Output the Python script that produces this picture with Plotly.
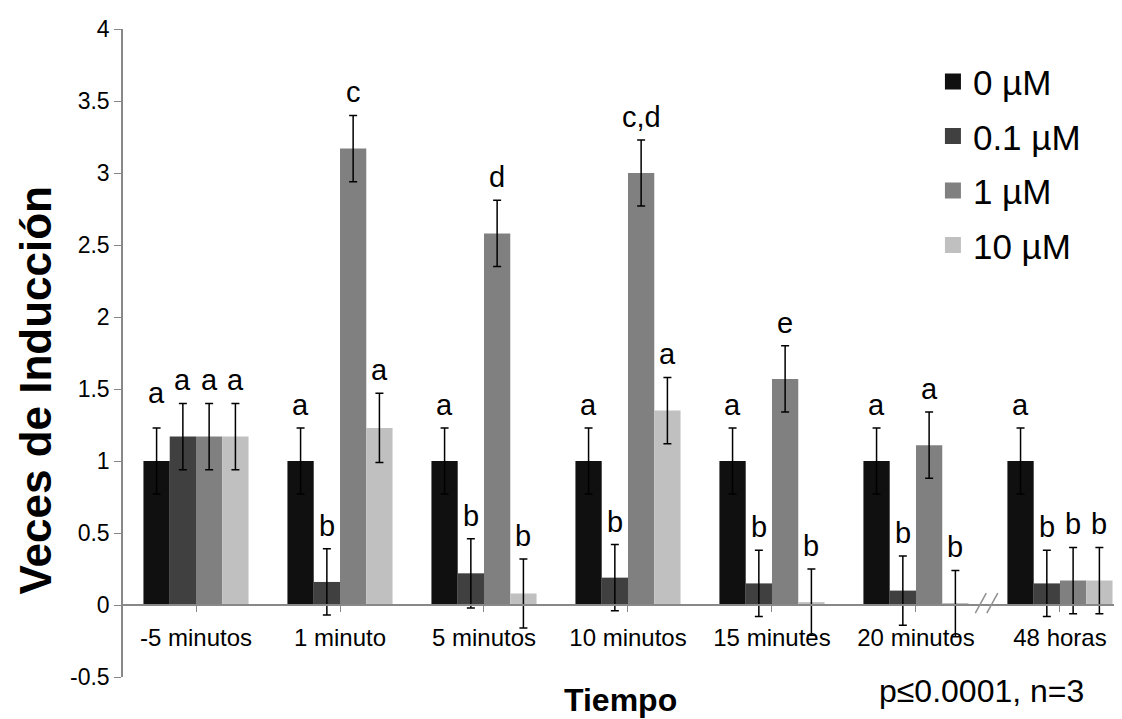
import plotly.graph_objects as go

categories = ["-5 minutos", "1 minuto", "5 minutos", "10 minutos",
              "15 minutes", "20 minutos", "48 horas"]
series_names = ["0 µM", "0.1 µM", "1 µM", "10 µM"]

v_0 = [1.00, 1.00, 1.00, 1.00, 1.00, 1.00, 1.00]
v_01 = [1.17, 0.16, 0.22, 0.19, 0.15, 0.10, 0.15]
v_1 = [1.17, 3.17, 2.58, 3.00, 1.57, 1.11, 0.17]
v_10 = [1.17, 1.23, 0.08, 1.35, 0.02, 0.01, 0.17]

e_0 = [0.23, 0.23, 0.23, 0.23, 0.23, 0.23, 0.23]
e_01 = [0.23, 0.23, 0.24, 0.23, 0.23, 0.24, 0.23]
e_1 = [0.23, 0.23, 0.23, 0.23, 0.23, 0.23, 0.23]
e_10 = [0.23, 0.24, 0.24, 0.23, 0.23, 0.23, 0.23]

l_0 = ["a", "a", "a", "a", "a", "a", "a"]
l_01 = ["a", "b", "b", "b", "b", "b", "b"]
l_1 = ["a", "c", "d", "c,d", "e", "a", "b"]
l_10 = ["a", "a", "b", "a", "b", "b", "b"]

y_ticks = [-0.5, 0, 0.5, 1, 1.5, 2, 2.5, 3, 3.5, 4]
y_tick_labels = ["-0.5", "0", "0.5", "1", "1.5", "2", "2.5", "3", "3.5", "4"]

note_text = "p≤0.0001, n=3"
x_title = "Tiempo"
y_title = "Veces de Inducción"

values = [v_0, v_01, v_1, v_10]
errors = [e_0, e_01, e_1, e_10]
letters = [l_0, l_01, l_1, l_10]
colors = ["#101010", "#404040", "#808080", "#c0c0c0"]

FONT = "Liberation Sans, Arial, sans-serif"
BARGAP = 0.27
x_idx = list(range(len(categories)))
YMIN, YMAX = -0.5, 4.0

fig = go.Figure()
for j in range(4):
    fig.add_trace(go.Bar(
        x=x_idx, y=values[j], name=series_names[j],
        marker=dict(color=colors[j], line=dict(width=0)),
        error_y=dict(type="data", array=errors[j], visible=True,
                     color="#000000", thickness=1.5, width=4),
        showlegend=False,
    ))
# legend entries (square markers)
for j in range(4):
    fig.add_trace(go.Scatter(
        x=[None], y=[None], mode="markers", name=series_names[j],
        marker=dict(symbol="square", size=18, color=colors[j]),
        legendgroup=f"g{j}", showlegend=True,
    ))

# significance letters
bw = (1 - BARGAP) / 4
extra = {(0, 0): 12}
for j in range(4):
    for i in x_idx:
        fig.add_annotation(
            x=i + (j - 1.5) * bw, y=values[j][i] + errors[j][i],
            xref="x", yref="y", text=letters[j][i], showarrow=False,
            yanchor="bottom", xanchor="center",
            yshift=5 + extra.get((j, i), 0),
            font=dict(family=FONT, size=29, color="#000000"),
        )

# axis break marks between 20 minutos and 48 horas
brk = 5.49
for dx in (-0.04, 0.04):
    fig.add_shape(type="line", xref="x", yref="y",
                  x0=brk + dx - 0.038, y0=-0.056, x1=brk + dx + 0.038, y1=0.083,
                  line=dict(color="#909090", width=1.5))

fig.add_annotation(x=0.4995, y=-0.036, xref="paper", yref="paper",
                   text=f"<b>{x_title}</b>", showarrow=False,
                   xanchor="center", yanchor="middle",
                   font=dict(family=FONT, size=32, color="#000000"))
fig.add_annotation(x=-0.088, y=0.443, xref="paper", yref="paper",
                   text=f"<b>{y_title}</b>", showarrow=False, textangle=-90,
                   xanchor="center", yanchor="middle",
                   font=dict(family=FONT, size=44, color="#000000"))
fig.add_annotation(x=0.863, y=-0.022, xref="paper", yref="paper",
                   text=note_text, showarrow=False,
                   xanchor="center", yanchor="middle",
                   font=dict(family=FONT, size=32, color="#000000"))

fig.update_layout(
    width=1114, height=711,
    margin=dict(l=115, r=4, t=21, b=42),
    paper_bgcolor="white", plot_bgcolor="white",
    barmode="group", bargap=BARGAP, bargroupgap=0,
    font=dict(family=FONT, color="#000000"),
    legend=dict(x=0.814, y=0.964, xanchor="left", yanchor="top",
                font=dict(family=FONT, size=35, color="#000000"),
                tracegroupgap=6, bgcolor="rgba(0,0,0,0)",
                itemsizing="trace"),
    xaxis=dict(
        range=[-0.507, 6.403], tickmode="array", tickvals=x_idx,
        ticktext=categories, ticks="outside", ticklen=6, tickcolor="#888888",
        showline=True, linecolor="#888888", linewidth=1.5,
        showgrid=False, zeroline=False, anchor="free",
        position=(0 - YMIN) / (YMAX - YMIN),
        tickfont=dict(family=FONT, size=24, color="#000000"),
        ticklabelstandoff=5,
    ),
    yaxis=dict(
        range=[YMIN, YMAX], tickmode="array", tickvals=y_ticks,
        ticktext=y_tick_labels, ticks="outside", ticklen=7,
        tickcolor="#888888", showline=True, linecolor="#888888",
        linewidth=1.5, showgrid=False, zeroline=False,
        tickfont=dict(family=FONT, size=23, color="#000000"),
    ),
)

fig.write_html("out.html")
